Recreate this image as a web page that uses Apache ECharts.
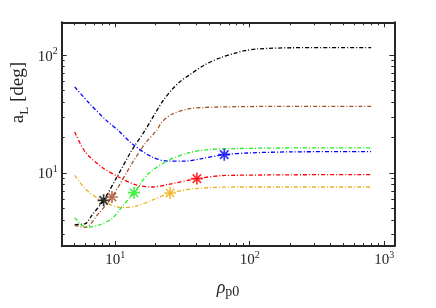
<!DOCTYPE html>
<html>
<head>
<meta charset="utf-8">
<script src="https://cdn.jsdelivr.net/npm/echarts@6/dist/echarts.min.js"></script>
<style>html,body{margin:0;padding:0;background:#fff}#c{width:436px;height:308px}</style>
</head>
<body>
<div id="c"></div>
<script>
// ---- data ----
var blackX = [5, 6, 6.7, 8.2, 10.3, 13.3, 16.7, 19.8, 23, 26.4, 30, 35, 46.5, 62, 78, 92, 116, 204, 400, 800];
var blackY = [3.65, 3.72, 4.37, 5.86, 9.25, 15.6, 23.1, 32, 42, 51, 59, 67, 83, 96, 104, 109, 113, 115.5, 116, 116];
var brownX = [5, 6, 7.5, 9.46, 13.3, 16.7, 20.4, 22.2, 26.4, 35, 46.5, 78, 200, 800];
var brownY = [3.6, 3.45, 4.52, 6.25, 12.0, 17.8, 23.1, 27, 31.5, 35, 36, 36.5, 36.8, 36.8];
var blueX = [5, 6.34, 8.43, 10.6, 13.3, 18.7, 24.9, 33.1, 44, 64.7, 100, 200, 800];
var blueY = [53.8, 39.6, 28.5, 22.8, 17.8, 13.7, 12.6, 12.6, 13.25, 14.3, 14.8, 15.1, 15.2];
var greenX = [5, 5.65, 6.34, 7.5, 9.46, 11.2, 13.8, 17.7, 24.9, 35, 49.3, 77.8, 200, 800];
var greenY = [4.18, 3.6, 3.48, 3.6, 4.1, 5.14, 6.8, 9.9, 12.8, 14.8, 15.8, 16.1, 16.3, 16.3];
var redX = [5, 5.98, 7.96, 10.6, 14.1, 18.7, 24.9, 40.5, 62, 77.8, 200, 800];
var redY = [22.3, 15.1, 11.2, 9.25, 7.96, 7.6, 8.0, 8.96, 9.5, 9.56, 9.65, 9.69];
var orangeX = [5, 5.98, 7.5, 9.46, 11.2, 14.1, 18.7, 25.6, 39.3, 77.8, 200, 800];
var orangeY = [9.56, 7.36, 6.05, 5.32, 5.08, 5.21, 5.86, 6.76, 7.36, 7.6, 7.6, 7.6];
var starX = [8.2, 9.46, 13.8, 25.6, 40.5, 64.7];
var starY = [5.86, 6.25, 6.8, 6.76, 8.96, 14.3];
var xMajor = [10, 100, 1000];
var xMinor = [5, 6, 7, 8, 9, 20, 30, 40, 50, 60, 70, 80, 90, 200, 300, 400, 500, 600, 700, 800, 900];
var yMajor = [10, 100];
var yMinor = [3, 4, 5, 6, 7, 8, 9, 20, 30, 40, 50, 60, 70, 80, 90];

// ---- styles ----
var AX = '#262626';
var FONT = 'Liberation Serif';
var colBlack = '#000000', colBrown = '#A5522A', colBlue = '#0000FF', colGreen = '#22EE22', colRed = '#FF0000', colOrange = '#EDB120';
var starColors = [colBlack, colBrown, colGreen, colOrange, colRed, colBlue];
var starPath = 'path://M0 43L100 43L100 57L0 57Z M43 0L57 0L57 100L43 100Z M10 20L20 10L90 80L80 90Z M80 10L90 20L20 90L10 80Z';

function pairs(xs, ys) { return xs.map(function (x, i) { return [x, ys[i]]; }); }
function powLabel(v) { return '{b|10}{e|' + Math.round(Math.log10(v)) + '}'; }
var labRich = {
  b: { fontFamily: FONT, fontSize: 15, color: AX, lineHeight: 18, verticalAlign: 'bottom' },
  e: { fontFamily: FONT, fontSize: 10, color: AX, lineHeight: 10, verticalAlign: 'top' }
};

function makeAxis(kind, pos, major, mn, mx, extra) {
  var a = {
    type: 'log', logBase: 10, position: pos, min: mn, max: mx,
    splitLine: { show: false }, minorTick: { show: false }, minorSplitLine: { show: false },
    axisLine: { show: major, onZero: false, lineStyle: { color: AX, width: 2 } },
    axisTick: { show: true, inside: true, length: major ? 5 : 3, lineStyle: { color: AX, width: 1 },
      customValues: kind === 'x' ? (major ? xMajor : xMinor) : (major ? yMajor : yMinor) },
    axisLabel: { show: false }
  };
  for (var k in extra) a[k] = extra[k];
  return a;
}

var XMIN = 4, XMAX = 1190, YMIN = 2.4, YMAX = 190;

var xAxes = [
  makeAxis('x', 'bottom', true, XMIN, XMAX, {
    axisLabel: { show: true, customValues: xMajor, formatter: powLabel, rich: labRich, margin: 4 },
    name: '{r|ρ}{s|p0}', nameLocation: 'middle', nameGap: 33,
    nameTextStyle: { rich: {
      r: { fontFamily: FONT, fontSize: 18, color: AX, lineHeight: 20, verticalAlign: 'top', fontStyle: 'italic' },
      s: { fontFamily: FONT, fontSize: 14, color: AX, lineHeight: 14, verticalAlign: 'bottom' } } }
  }),
  makeAxis('x', 'bottom', false, XMIN, XMAX, {}),
  makeAxis('x', 'top', true, XMIN, XMAX, {}),
  makeAxis('x', 'top', false, XMIN, XMAX, {})
];
var yAxes = [
  makeAxis('y', 'left', true, YMIN, YMAX, {
    axisLabel: { show: true, customValues: yMajor, formatter: powLabel, rich: labRich, margin: 4 }
  }),
  makeAxis('y', 'left', false, YMIN, YMAX, {}),
  makeAxis('y', 'right', true, YMIN, YMAX, {}),
  makeAxis('y', 'right', false, YMIN, YMAX, {})
];

function lineSeries(xs, ys, color) {
  return {
    type: 'line', xAxisIndex: 0, yAxisIndex: 0, data: pairs(xs, ys),
    showSymbol: false, symbol: 'none', smooth: 0.3, clip: true,
    lineStyle: { color: color, width: 1.3, type: [4, 2, 1, 2] }
  };
}

var series = [
  lineSeries(blackX, blackY, colBlack),
  lineSeries(brownX, brownY, colBrown),
  lineSeries(blueX, blueY, colBlue),
  lineSeries(greenX, greenY, colGreen),
  lineSeries(redX, redY, colRed),
  lineSeries(orangeX, orangeY, colOrange),
  {
    type: 'scatter', xAxisIndex: 0, yAxisIndex: 0, symbol: starPath, symbolSize: 12, z: 5,
    data: starX.map(function (x, i) { return { value: [x, starY[i]], itemStyle: { color: starColors[i] } }; })
  }
];

var chart = echarts.init(document.getElementById('c'), null, { renderer: 'canvas' });
chart.setOption({
  animation: false,
  backgroundColor: '#ffffff',
  grid: { left: 61.7, right: 41.7, top: 22.3, bottom: 62, containLabel: false },
  xAxis: xAxes,
  yAxis: yAxes,
  graphic: [{
    type: 'text', left: 9, top: 62, rotation: Math.PI / 2,
    style: {
      text: '{a|a}{s|L}{a| [deg]}',
      rich: {
        a: { fontFamily: FONT, fontSize: 19, fill: AX, lineHeight: 22, verticalAlign: 'top' },
        s: { fontFamily: FONT, fontSize: 13, fill: AX, lineHeight: 13, verticalAlign: 'bottom' }
      }
    }
  }],
  series: series
});
</script>
</body>
</html>
